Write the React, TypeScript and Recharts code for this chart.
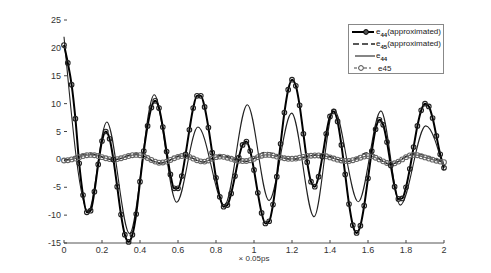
import { LineChart, Line, XAxis, YAxis, Legend } from "recharts";

// sampling grid (x 0.05ps) for the two marker series
const TIME = [
  0, 0.02, 0.04, 0.06, 0.08, 0.1, 0.12, 0.14, 0.16, 0.18,
  0.2, 0.22, 0.24, 0.26, 0.28, 0.3, 0.32, 0.34, 0.36, 0.38,
  0.4, 0.42, 0.44, 0.46, 0.48, 0.5, 0.52, 0.54, 0.56, 0.58,
  0.6, 0.62, 0.64, 0.66, 0.68, 0.7, 0.72, 0.74, 0.76, 0.78,
  0.8, 0.82, 0.84, 0.86, 0.88, 0.9, 0.92, 0.94, 0.96, 0.98,
  1, 1.02, 1.04, 1.06, 1.08, 1.1, 1.12, 1.14, 1.16, 1.18,
  1.2, 1.22, 1.24, 1.26, 1.28, 1.3, 1.32, 1.34, 1.36, 1.38,
  1.4, 1.42, 1.44, 1.46, 1.48, 1.5, 1.52, 1.54, 1.56, 1.58,
  1.6, 1.62, 1.64, 1.66, 1.68, 1.7, 1.72, 1.74, 1.76, 1.78,
  1.8, 1.82, 1.84, 1.86, 1.88, 1.9, 1.92, 1.94, 1.96, 1.98,
  2,
];

const E44_APPROX = [
  20.5, 17.3, 13.4, 7.3, -0.7, -6.4, -9.5, -9.2, -5.8, -0.9,
  3.3, 5.0, 3.7, 0.0, -4.9, -9.9, -13.5, -14.8, -13.5, -9.8,
  -4.0, 1.5, 6.0, 9.3, 10.5, 9.2, 5.8, 1.4, -2.7, -5.2,
  -5.2, -3.0, 0.9, 5.3, 9.2, 11.4, 11.4, 9.4, 5.7, 1.2,
  -3.3, -6.7, -8.5, -8.2, -6.1, -3.0, 0.3, 2.6, 3.2, 1.5,
  -1.9, -6.0, -9.6, -11.5, -11.1, -8.1, -3.1, 2.8, 8.4, 12.5,
  14.3, 13.2, 9.7, 4.6, -0.5, -4.0, -4.9, -3.1, 0.5, 4.6,
  7.7, 8.6, 6.8, 2.6, -2.7, -8.0, -11.8, -13.2, -11.9, -8.3,
  -3.4, 1.5, 5.4, 7.1, 6.2, 3.1, -1.1, -4.9, -7.1, -7.0,
  -5.0, -1.7, 2.2, 6.0, 8.8, 10.0, 9.5, 7.4, 4.2, 0.9,
  -1.5,
];

const E45 = [
  -0.2, -0.15, 0.0, 0.15, 0.4, 0.6, 0.75, 0.8, 0.75, 0.6,
  0.4, 0.2, 0.05, 0.0, 0.05, 0.2, 0.4, 0.6, 0.75, 0.8,
  0.75, 0.55, 0.25, -0.1, -0.4, -0.6, -0.55, -0.4, -0.1, 0.2,
  0.45, 0.6, 0.6, 0.45, 0.15, -0.15, -0.35, -0.4, -0.2, 0.1,
  0.4, 0.5, 0.45, 0.3, 0.1, -0.1, -0.25, -0.3, -0.3, -0.15,
  0.1, 0.4, 0.65, 0.8, 0.8, 0.7, 0.5, 0.35, 0.2, 0.1,
  0.1, 0.15, 0.3, 0.45, 0.6, 0.65, 0.7, 0.7, 0.65, 0.55,
  0.35, 0.15, -0.05, -0.2, -0.3, -0.3, -0.15, 0.05, 0.3, 0.5,
  0.6, 0.55, 0.3, 0.0, -0.35, -0.65, -0.8, -0.7, -0.4, 0.0,
  0.4, 0.7, 0.8, 0.75, 0.55, 0.35, 0.15, -0.05, -0.25, -0.4,
  -0.5,
];

// plain lines: turning points only, the curve does the rest
const E44_X = [0, 0.128, 0.225, 0.345, 0.475, 0.593, 0.705, 0.845, 0.965, 1.079, 1.198, 1.316, 1.42, 1.549, 1.668, 1.77, 1.904, 2];
const E44_Y = [22, -9.3, 6.7, -13.3, 11.6, -7.7, 5.8, -8.2, 9.8, -7.4, 8.3, -10.3, 9.0, -7.6, 8.7, -8.2, 6.0, -2.0];

const E45_APPROX_X = [0, 0.14, 0.26, 0.38, 0.505, 0.63, 0.73, 0.82, 0.96, 1.06, 1.2, 1.35, 1.49, 1.6, 1.716, 1.84, 2];
const E45_APPROX_Y = [-0.3, 1.0, -0.1, 1.0, -0.7, 0.8, -0.5, 0.7, -0.4, 1.3, 0.0, 0.9, -0.4, 1.2, -0.9, 1.0, -0.6];

const X_TICKS = [0, 0.2, 0.4, 0.6, 0.8, 1, 1.2, 1.4, 1.6, 1.8, 2];
const Y_TICKS = [-15, -10, -5, 0, 5, 10, 15, 20, 25];

const dense = TIME.map((x, i) => ({ x, e44a: E44_APPROX[i], e45: E45[i] }));
const e44 = E44_X.map((x, i) => ({ x, e44: E44_Y[i] }));
const e45a = E45_APPROX_X.map((x, i) => ({ x, e45a: E45_APPROX_Y[i] }));

const FONT = "'Liberation Sans', Arial, sans-serif";

function XTick({ x, y, payload }: any) {
  return (
    <g>
      <line x1={x} x2={x} y1={y - 2} y2={y - 5} stroke="#444" />
      <text x={x} y={y} dy={8} textAnchor="middle" fontSize={9} fill="#333" fontFamily={FONT}>
        {payload.value}
      </text>
    </g>
  );
}

function YTick({ x, y, payload }: any) {
  return (
    <g>
      <line x1={x + 3} x2={x + 6} y1={y} y2={y} stroke="#444" />
      <text x={x} y={y} dy={3} textAnchor="end" fontSize={9} fill="#333" fontFamily={FONT}>
        {payload.value}
      </text>
    </g>
  );
}

function Sample({ kind }: { kind: number }) {
  return (
    <svg width={27} height={12} style={{ display: "block" }}>
      {kind === 0 && (
        <>
          <line x1={3} x2={25} y1={6} y2={6} stroke="#000" strokeWidth={2} />
          <circle cx={17} cy={6} r={2.4} fill="#555" stroke="#000" />
        </>
      )}
      {kind === 1 && <line x1={4} x2={26} y1={6} y2={6} stroke="#222" strokeWidth={1.3} strokeDasharray="6 3" />}
      {kind === 2 && <line x1={6} x2={26} y1={6} y2={6} stroke="#333" strokeWidth={1.2} />}
      {kind === 3 && (
        <>
          <line x1={5} x2={22} y1={6} y2={6} stroke="#444" strokeDasharray="3 2" />
          <circle cx={12} cy={6} r={2.4} fill="#fff" stroke="#444" />
        </>
      )}
    </svg>
  );
}

function LegendBox() {
  const rows = [
    { sub: "44", rest: "(approximated)" },
    { sub: "45", rest: "(approximated)" },
    { sub: "44", rest: "" },
    { sub: "", rest: "45" },
  ];
  return (
    <div
      style={{
        width: 96,
        height: 50,
        border: "1px solid #888",
        background: "#fff",
        boxSizing: "border-box",
        fontFamily: FONT,
        fontSize: 8,
        color: "#222",
        paddingTop: 1,
      }}
    >
      {rows.map((r, i) => (
        <div key={i} style={{ display: "flex", alignItems: "center", height: 12 }}>
          <Sample kind={i} />
          <span style={{ whiteSpace: "nowrap", marginLeft: i === 3 ? 2 : 0 }}>
            e
            {r.sub && <sub style={{ fontSize: 6, fontWeight: "bold" }}>{r.sub}</sub>}
            {r.rest}
          </span>
        </div>
      ))}
    </div>
  );
}

export default function App() {
  return (
    <div style={{ position: "absolute", left: 0, top: 0, background: "#fff" }}>
      <LineChart width={491} height={273} margin={{ top: 20, right: 47, bottom: 0, left: 0 }}>
        <XAxis
          type="number"
          dataKey="x"
          domain={[0, 2]}
          ticks={X_TICKS}
          height={30}
          tickSize={0}
          tickMargin={2}
          tickLine={false}
          tick={<XTick />}
          stroke="#555"
          allowDuplicatedCategory={false}
          label={{ value: "× 0.05ps", position: "insideBottom", offset: 12, fontSize: 8, fill: "#333", fontFamily: FONT }}
        />
        <YAxis
          type="number"
          domain={[-15, 25]}
          ticks={Y_TICKS}
          width={64}
          axisLine={false}
          tickLine={false}
          tickSize={0}
          tickMargin={3}
          tick={<YTick />}
        />
        <Legend
          layout="vertical"
          align="center"
          verticalAlign="middle"
          content={<LegendBox />}
          wrapperStyle={{ top: 24, left: 348, width: 96 }}
        />
        <Line
          data={dense}
          dataKey="e45"
          type="monotone"
          stroke="#666"
          strokeWidth={1.2}
          dot={{ r: 2.4, fill: "none", stroke: "#666", strokeWidth: 1.1 }}
          isAnimationActive={false}
        />
        <Line
          data={e45a}
          dataKey="e45a"
          type="monotone"
          stroke="#222"
          strokeWidth={1.2}
          strokeDasharray="6 3"
          dot={false}
          isAnimationActive={false}
        />
        <Line
          data={e44}
          dataKey="e44"
          type="monotone"
          stroke="#222"
          strokeWidth={1.1}
          dot={false}
          isAnimationActive={false}
        />
        <Line
          data={dense}
          dataKey="e44a"
          type="monotone"
          stroke="#000"
          strokeWidth={2}
          dot={{ r: 2.3, fill: "none", stroke: "#222", strokeWidth: 1.1 }}
          isAnimationActive={false}
        />
      </LineChart>
    </div>
  );
}
